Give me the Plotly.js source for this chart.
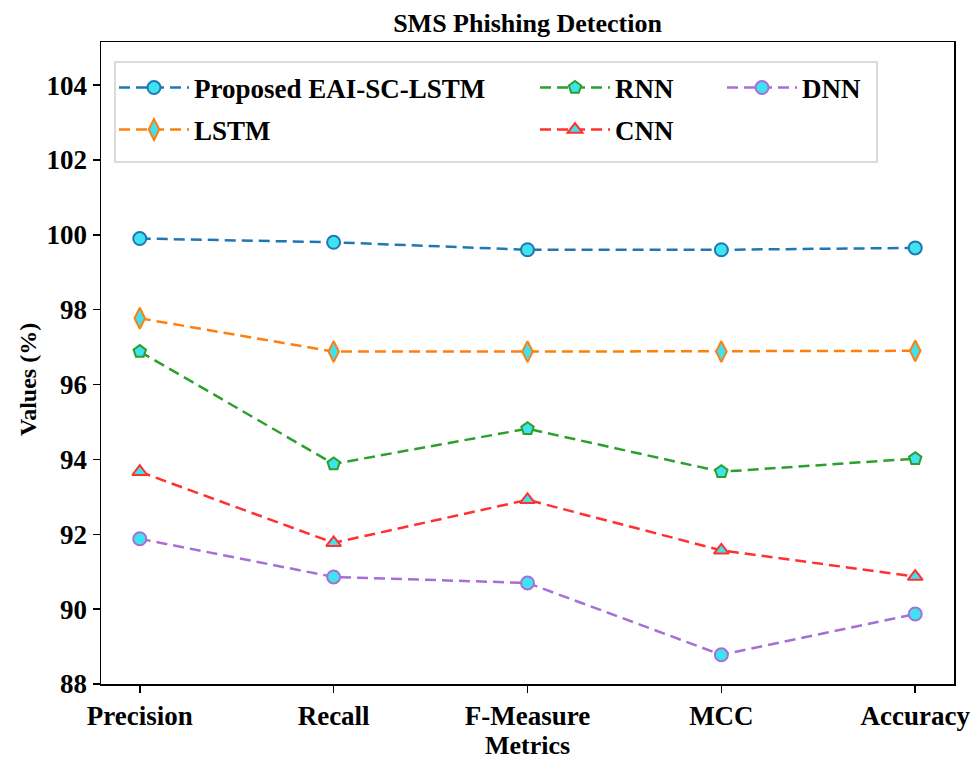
<!DOCTYPE html>
<html>
<head>
<meta charset="utf-8">
<script src="https://cdn.plot.ly/plotly-3.0.1.min.js"></script>
<style>html,body{margin:0;padding:0;background:#fff;}#chart{width:978px;height:765px;}</style>
</head>
<body>
<div id="chart"></div>
<script>
const metrics = ["Precision", "Recall", "F-Measure", "MCC", "Accuracy"];
const proposed = [99.9, 99.8, 99.6, 99.6, 99.65];
const lstm = [97.77, 96.88, 96.88, 96.88, 96.9];
const rnn = [96.88, 93.88, 94.82, 93.67, 94.02];
const cnn = [93.67, 91.77, 92.92, 91.57, 90.87];
const dnn = [91.88, 90.86, 90.7, 88.78, 89.87];
const yTicks = [88, 90, 92, 94, 96, 98, 100, 102, 104];

const FONT = "Liberation Serif, Times New Roman, serif";
const FILL = "#3fe3f0";
const DASH = "11px,6px";

function series(name, y, color, symbol, size, legend) {
  return {
    type: "scatter", mode: "lines+markers", name: name, x: metrics, y: y,
    legend: legend,
    line: {color: color, width: 2.5, dash: DASH},
    marker: {symbol: symbol, size: size, color: FILL, line: {color: color, width: 2}}
  };
}

const traces = [
  series("Proposed EAI-SC-LSTM", proposed, "#1f77b4", "circle", 13, "legend"),
  series("LSTM", lstm, "#ff7f0e", "diamond-tall", 15, "legend2"),
  series("RNN", rnn, "#2ca02c", "pentagon", 13, "legend3"),
  series("CNN", cnn, "#ff3030", "triangle-up", 13, "legend4"),
  series("DNN", dnn, "#a66fd6", "circle", 13, "legend5")
];

const L = 101, R = 954, T = 42, B = 684;
const W = R - L, H = B - T;
function px(x) { return (x - L) / W; }
function py(y) { return (B - y) / H; }

function leg(x, y) {
  return {
    x: px(x), y: py(y), xanchor: "left", yanchor: "middle",
    bgcolor: "rgba(0,0,0,0)", borderwidth: 0, itemwidth: 70,
    font: {family: FONT, size: 27, color: "#000", weight: "bold"}
  };
}

const layout = {
  width: 978, height: 765,
  margin: {l: L, r: 978 - R, t: T, b: 765 - B},
  paper_bgcolor: "#fff", plot_bgcolor: "#fff",
  font: {family: FONT, color: "#000"},
  title: {text: "<b>SMS Phishing Detection</b>", font: {family: FONT, size: 26, color: "#000"},
          x: 0.5, xref: "paper", xanchor: "center", y: 1 - 23 / 765, yanchor: "middle"},
  xaxis: {
    type: "category", range: [-0.2, 4.2], showgrid: false, zeroline: false,
    showline: true, linecolor: "#000", linewidth: 1.5, mirror: true,
    ticks: "outside", ticklen: 7, tickwidth: 1.5, tickcolor: "#000",
    tickfont: {family: FONT, size: 27, color: "#000", weight: "bold"},
    title: {text: "<b>Metrics</b>", font: {family: FONT, size: 26, color: "#000"}, standoff: 4},
    automargin: false
  },
  yaxis: {
    range: [88, 105.15], tickvals: yTicks, showgrid: false, zeroline: false,
    showline: true, linecolor: "#000", linewidth: 1.5, mirror: true,
    ticks: "outside", ticklen: 7, tickwidth: 1.5, tickcolor: "#000",
    tickfont: {family: FONT, size: 27, color: "#000", weight: "bold"},
    automargin: false
  },
  annotations: [{
    text: "<b>Values (%)</b>", textangle: -90, showarrow: false,
    xref: "paper", yref: "paper", x: px(28), y: py(380), xanchor: "center", yanchor: "middle",
    font: {family: FONT, size: 24, color: "#000"}
  }],
  shapes: [{
    type: "rect", xref: "paper", yref: "paper",
    x0: px(115), x1: px(877), y0: py(162), y1: py(62),
    line: {color: "#d0d0d0", width: 1.5}, fillcolor: "rgba(255,255,255,0.8)", layer: "below"
  }],
  legend: leg(114, 88),
  legend2: leg(114, 130),
  legend3: leg(535, 88),
  legend4: leg(535, 130),
  legend5: leg(722, 88),
  showlegend: true
};

Plotly.newPlot("chart", traces, layout, {displayModeBar: false, staticPlot: true});
</script>
</body>
</html>
